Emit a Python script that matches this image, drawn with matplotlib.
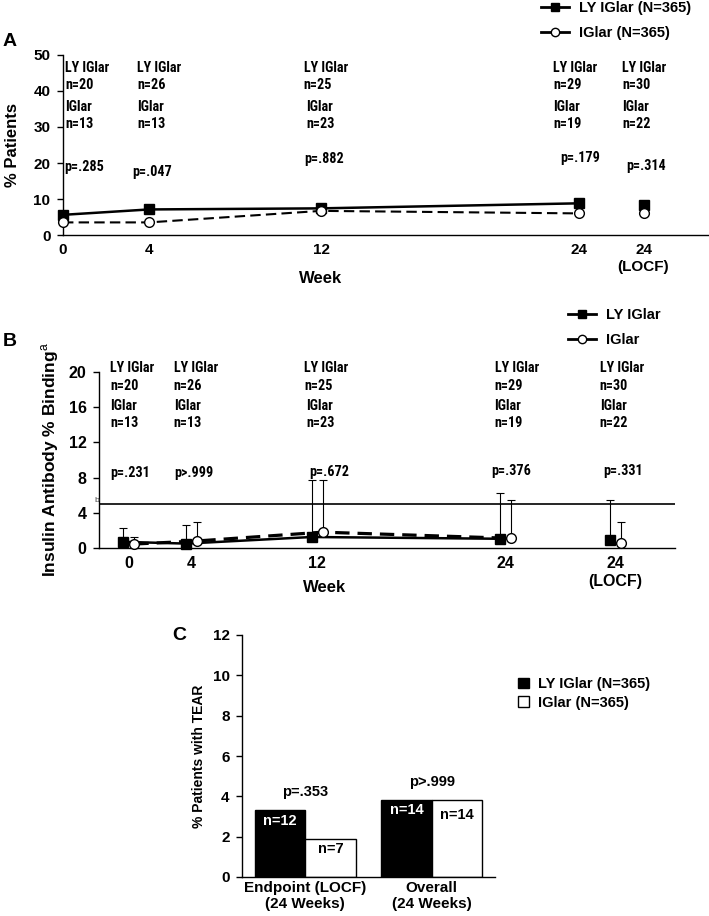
import matplotlib
matplotlib.use('Agg')
import matplotlib.pyplot as plt
from matplotlib.lines import Line2D
from matplotlib.patches import Patch
from matplotlib import font_manager as fm
import matplotlib.transforms as mtransforms
import numpy as np

# ---------------- data ----------------
tick_labels = ['0', '4', '12', '24', '24\n(LOCF)']
weeks_a = [0, 4, 12, 24, 27]          # x positions of visits, panel A
weeks_b = [0, 4, 12, 24, 31]          # x positions of visits, panel B
ly_n = [20, 26, 25, 29, 30]
ig_n = [13, 13, 23, 19, 22]

# Panel A: % patients
a_ly = [5.6, 7.1, 7.4, 8.8, 8.3]
a_ig = [3.5, 3.5, 6.7, 6.0, 6.0]
a_p = ['p=.285', 'p=.047', 'p=.882', 'p=.179', 'p=.314']

# Panel B: insulin antibody % binding (mean and upper error limit)
b_ly = [0.7, 0.5, 1.25, 1.05, 0.95]
b_ly_top = [2.3, 2.65, 7.7, 6.3, 5.4]
b_ig = [0.45, 0.8, 1.8, 1.1, 0.55]
b_ig_top = [1.25, 2.9, 7.7, 5.5, 2.95]
b_p = ['p=.231', 'p>.999', 'p=.672', 'p=.376', 'p=.331']
b_threshold = 5

# Panel C: TEAR
c_cats = ['Endpoint (LOCF)\n(24 Weeks)', 'Overall\n(24 Weeks)']
c_ly = [3.3, 3.8]
c_ig = [1.9, 3.8]
c_ly_n = [12, 14]
c_ig_n = [7, 14]
c_p = ['p=.353', 'p>.999']

# ---------------- style ----------------
plt.rcParams['font.family'] = ['Liberation Sans', 'DejaVu Sans']
plt.rcParams['mathtext.fontset'] = 'custom'
plt.rcParams['mathtext.rm'] = 'Liberation Sans'
plt.rcParams['mathtext.bf'] = 'Liberation Sans:bold'

# pick a narrow / condensed sans if one is installed
_entries = fm.fontManager.ttflist
_names = {e.name for e in _entries}
narrow_family, narrow_stretch = None, 'normal'
for nm in ['Liberation Sans Narrow', 'Arial Narrow', 'Roboto Condensed',
           'Open Sans Condensed', 'Noto Sans Condensed', 'Noto Sans SemiCondensed',
           'DejaVu Sans Condensed']:
    if nm in _names:
        narrow_family = nm
        break
if narrow_family is None:
    for e in _entries:
        if e.name in ('DejaVu Sans', 'Noto Sans', 'Open Sans', 'Roboto', 'Liberation Sans') \
                and str(e.stretch) in ('condensed', 'semi-condensed', 'extra-condensed'):
            narrow_family, narrow_stretch = e.name, e.stretch
            break
if narrow_family is None:
    narrow_family = 'Liberation Sans'
NARROW = [narrow_family, 'DejaVu Sans']

W, H = 709, 916
fig = plt.figure(figsize=(W / 100, H / 100), dpi=100)

# calibrate the annotation font size to the reference text width
_r = fig.canvas.get_renderer()
_t = fig.text(0, 0, 'LY IGlar', family=NARROW, fontstretch=narrow_stretch,
              fontweight='bold', fontsize=10)
_w = _t.get_window_extent(_r).width
_t.remove()
NFS = float(np.clip(10 * 44.5 / _w, 8.8, 11))


def rect(l, t, r, b):
    return [l / W, 1 - b / H, (r - l) / W, (b - t) / H]


def style_axes(ax, tick_fs=11):
    for s in ['top', 'right']:
        ax.spines[s].set_visible(False)
    for s in ['left', 'bottom']:
        ax.spines[s].set_linewidth(1.0)
    ax.tick_params(axis='y', direction='out', length=4, width=1, labelsize=tick_fs, pad=5)
    ax.tick_params(axis='x', length=0, labelsize=tick_fs, pad=6)
    for lab in ax.get_xticklabels() + ax.get_yticklabels():
        lab.set_fontweight('bold')


def ntext(ax, x, y, s):
    ax.text(x, y, s, family=NARROW, fontstretch=narrow_stretch, fontsize=NFS,
            fontweight='bold', ha='left', va='center')


def n_block(ax, xs, ys, ly, ig):
    txts = ['LY IGlar', f'n={ly}', 'IGlar', f'n={ig}']
    for t, x, y in zip(txts, xs, ys):
        ntext(ax, x, y, t)


# ---------------- Panel A ----------------
axA = fig.add_axes(rect(63, 55, 708, 235))
axA.set_xlim(0, 30)
axA.set_ylim(0, 50)
axA.set_yticks(range(0, 51, 10))
axA.set_xticks(weeks_a)
axA.set_xticklabels(tick_labels)
style_axes(axA, 11)
axA.plot(weeks_a[:4], a_ly[:4], color='black', lw=1.8, marker='s', ms=7,
         mfc='black', mec='black', clip_on=False, zorder=3)
axA.plot(weeks_a[4], a_ly[4], color='black', marker='s', ms=7, ls='none',
         clip_on=False, zorder=3)
axA.plot(weeks_a[:4], a_ig[:4], color='black', lw=1.5, ls=(0, (5, 2.5)), marker='o', ms=7,
         mfc='white', mec='black', mew=1, clip_on=False, zorder=4)
axA.plot(weeks_a[4], a_ig[4], color='black', marker='o', ms=7, ls='none',
         mfc='white', mec='black', mew=1, clip_on=False, zorder=4)
axA.set_ylabel('% Patients', fontsize=12, fontweight='bold', labelpad=10)
axA.text(12, -0.24, 'Week', transform=axA.get_xaxis_transform(), ha='center',
         va='center', fontsize=12, fontweight='bold')

a_block_x = [0.1, 3.45, 11.2, 22.8, 26.0]
a_block_y = [46.5, 41.7, 35.6, 30.8]
a_p_x = [0.05, 3.2, 11.2, 23.15, 26.2]
a_p_y = [19.0, 17.6, 21.1, 21.3, 19.3]
for i in range(5):
    xs = [a_block_x[i]] * 4
    if i == 2:
        xs = [a_block_x[i], a_block_x[i], a_block_x[i] + 0.1, a_block_x[i] + 0.13]
    n_block(axA, xs, a_block_y, ly_n[i], ig_n[i])
    ntext(axA, a_p_x[i], a_p_y[i], a_p[i])

hA = [Line2D([], [], color='black', lw=2, marker='s', ms=6),
      Line2D([], [], color='black', lw=2, marker='o', ms=6, mfc='white', mec='black')]
fig.legend(hA, ['LY IGlar (N=365)', 'IGlar (N=365)'], loc='upper left',
           bbox_to_anchor=(541 / W, 1 - 1 / H), frameon=False, borderpad=0,
           borderaxespad=0, handlelength=1.9, handletextpad=0.7, labelspacing=0.78,
           prop={'weight': 'bold', 'size': 10.5})
fig.text(3 / W, 1 - 42 / H, 'A', fontsize=14, fontweight='bold', va='center', ha='left')

# ---------------- Panel B ----------------
axB = fig.add_axes(rect(99, 372, 675, 548))
axB.set_xlim(-1.9, 34.8)
axB.set_ylim(0, 20)
axB.set_yticks(range(0, 21, 4))
axB.set_xticks(weeks_b)
axB.set_xticklabels(tick_labels)
style_axes(axB, 11.5)
dodge = 0.35
xb = np.array(weeks_b, dtype=float)
xl = xb - dodge
xi = xb + dodge
b_ly_a = np.array(b_ly)
b_ig_a = np.array(b_ig)
axB.axhline(b_threshold, color='black', lw=1.2, zorder=1)
axB.errorbar(xl, b_ly_a, yerr=[np.zeros(5), np.array(b_ly_top) - b_ly_a], fmt='none',
             ecolor='black', elinewidth=0.8, capsize=3, capthick=0.8, zorder=2)
axB.errorbar(xi, b_ig_a, yerr=[np.zeros(5), np.array(b_ig_top) - b_ig_a], fmt='none',
             ecolor='black', elinewidth=0.8, capsize=3, capthick=0.8, zorder=2)
axB.plot(xl[:4], b_ly_a[:4], color='black', lw=1.8, zorder=3)
axB.plot(xi[:4], b_ig_a[:4], color='black', lw=2.3, ls=(0, (4.5, 2.5)), zorder=3)
axB.plot(xl, b_ly_a, ls='none', marker='s', ms=7, color='black', zorder=4, clip_on=False)
axB.plot(xi, b_ig_a, ls='none', marker='o', ms=7, mfc='white', mec='black', mew=1,
         zorder=5, clip_on=False)
axB.text(0, b_threshold, 'b', transform=mtransforms.blended_transform_factory(axB.transAxes, axB.transData),
         ha='right', va='bottom', fontsize=6, color='#444444')
axB.set_ylabel('Insulin Antibody % Binding$^{\\rm a}$', fontsize=12.5, fontweight='bold', labelpad=5.5)
axB.text(12.5, -0.225, 'Week', transform=axB.get_xaxis_transform(), ha='center',
         va='center', fontsize=12, fontweight='bold')

b_block_x = [-1.17, 2.87, 11.16, 23.3, 30.0]
b_block_y = [20.4, 18.4, 16.1, 14.2]
b_p_x = [-1.17, 2.87, 11.5, 23.1, 30.2]
b_p_y = [8.5, 8.5, 8.6, 8.8, 8.7]
for i in range(5):
    xs = [b_block_x[i]] * 4
    if i == 2:
        xs = [b_block_x[i], b_block_x[i], b_block_x[i] + 0.15, b_block_x[i] + 0.15]
    n_block(axB, xs, b_block_y, ly_n[i], ig_n[i])
    ntext(axB, b_p_x[i], b_p_y[i], b_p[i])

hB = [Line2D([], [], color='black', lw=2, marker='s', ms=6),
      Line2D([], [], color='black', lw=2, marker='o', ms=6, mfc='white', mec='black')]
fig.legend(hB, ['LY IGlar', 'IGlar'], loc='upper left',
           bbox_to_anchor=(568 / W, 1 - 308 / H), frameon=False, borderpad=0,
           borderaxespad=0, handlelength=1.9, handletextpad=0.7, labelspacing=0.78,
           prop={'weight': 'bold', 'size': 10.5})
fig.text(3 / W, 1 - 342 / H, 'B', fontsize=14, fontweight='bold', va='center', ha='left')

# ---------------- Panel C ----------------
axC = fig.add_axes(rect(242, 635, 495, 877))
axC.set_xlim(-0.5, 1.5)
axC.set_ylim(0, 12)
axC.set_yticks(range(0, 13, 2))
xc = np.arange(len(c_cats))
bw = 0.4
axC.bar(xc - bw / 2, c_ly, width=bw, color='black', edgecolor='black', lw=1)
axC.bar(xc + bw / 2, c_ig, width=bw, color='white', edgecolor='black', lw=1)
axC.set_xticks(xc)
axC.set_xticklabels(c_cats, linespacing=1.2)
style_axes(axC, 11)
axC.tick_params(axis='x', pad=3)
for i in range(2):
    axC.text(xc[i] - bw / 2, c_ly[i] - 0.5, f'n={c_ly_n[i]}', color='white', fontsize=10.5,
             fontweight='bold', ha='center', va='center')
    axC.text(xc[i] + bw / 2, c_ig[i] - 0.5 if c_ig[i] < 3 else c_ig[i] - 0.75,
             f'n={c_ig_n[i]}', color='black', fontsize=10.5,
             fontweight='bold', ha='center', va='center')
    axC.text(xc[i], max(c_ly[i], c_ig[i]) + 0.9, c_p[i], fontsize=10.5,
             fontweight='bold', ha='center', va='center')
axC.set_ylabel('% Patients with TEAR', fontsize=10, fontweight='bold', labelpad=5)
fig.text(172 / W, 1 - 636 / H, 'C', fontsize=14, fontweight='bold', va='center', ha='left')

hC = [Patch(facecolor='black', edgecolor='black'),
      Patch(facecolor='white', edgecolor='black')]
fig.legend(hC, ['LY IGlar (N=365)', 'IGlar (N=365)'], loc='upper left',
           bbox_to_anchor=(518 / W, 1 - 677 / H), frameon=False, borderpad=0,
           borderaxespad=0, handlelength=0.75, handleheight=0.75, handletextpad=0.6,
           labelspacing=0.33, prop={'weight': 'bold', 'size': 10.5})

fig.savefig('out.png', dpi=100)
